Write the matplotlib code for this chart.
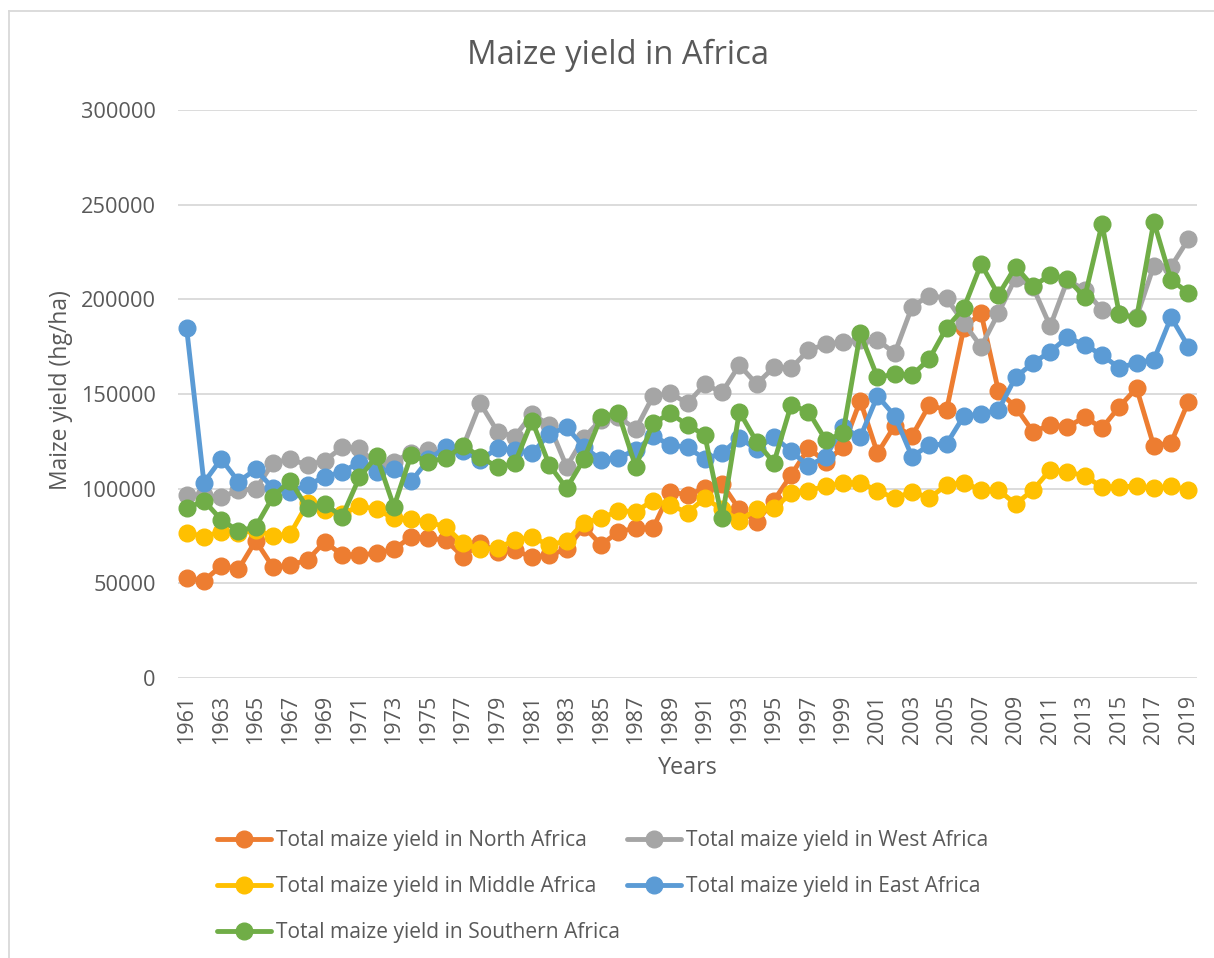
import matplotlib.pyplot as plt
from matplotlib.lines import Line2D

years = list(range(1961, 2020))

north = [52600, 51400, 59200, 57400, 72500, 58500, 59700, 62300, 72000, 65000,
         65000, 65900, 68000, 74600, 73800, 72900, 64100, 71100, 66700, 67600,
         63700, 65000, 68000, 79900, 70300, 77300, 79100, 79000, 98400, 96700,
         100200, 102500, 89100, 82600, 93700, 107200, 121300, 114300, 121900, 146500,
         118700, 133300, 127800, 144200, 141500, 184900, 192700, 151700, 143100, 130100,
         133600, 132700, 137800, 132000, 143300, 153100, 122500, 124300, 145900]

west = [96500, 96500, 95400, 99300, 99700, 113700, 115500, 112500, 114800, 121800,
        121300, 112800, 114300, 119000, 120500, 118700, 122000, 145100, 130100, 127500,
        139400, 133600, 111600, 127000, 136500, 138000, 131300, 148800, 150400, 145100,
        155100, 150900, 165300, 155300, 164100, 163600, 173200, 176200, 177600, 178300,
        178500, 171600, 196100, 202000, 200600, 187500, 175000, 192700, 211500, 206500,
        185800, 210200, 205000, 194400, 192300, 190500, 217800, 217300, 231800]

middle = [76800, 74700, 77300, 76400, 78200, 75000, 76100, 92300, 88700, 86600,
          90900, 89100, 84300, 84000, 82300, 79900, 71100, 68000, 68500, 72900,
          74300, 70300, 72400, 82100, 84300, 88400, 87900, 93700, 91400, 87300,
          95000, 89100, 83100, 89100, 89600, 97500, 98900, 101400, 102800, 103200,
          98900, 95000, 98400, 95100, 101900, 103200, 99300, 99300, 91900, 99300,
          109900, 109000, 106700, 100900, 100900, 101400, 100200, 101400, 99300]

east = [184700, 103200, 115700, 103700, 110200, 100200, 98400, 101900, 106300, 109000,
        113700, 109000, 110200, 103800, 115500, 121800, 120000, 115200, 121300, 120400,
        118700, 128900, 132400, 122000, 115200, 116400, 120400, 127800, 123100, 121800,
        115700, 118700, 126900, 120800, 127500, 119800, 112000, 116900, 132500, 127100,
        149000, 138400, 116900, 123100, 123600, 138400, 139400, 141500, 158900, 166300,
        172400, 180000, 175900, 170600, 163700, 166600, 168000, 190500, 175000]

southern = [89600, 93700, 83600, 77600, 79900, 95800, 104200, 89600, 91900, 85200,
            105900, 117200, 90500, 117800, 114300, 116000, 122700, 116900, 111300, 113400,
            135900, 112500, 100200, 115500, 138000, 139800, 111600, 134500, 139800, 133600,
            128300, 84300, 140700, 124800, 113700, 144200, 140700, 125700, 129200, 182000,
            158800, 160500, 160000, 168500, 185000, 195400, 218700, 202300, 217300, 206800,
            212900, 210700, 201200, 239800, 192300, 190100, 241000, 210200, 203500]

series = [
    ("Total maize yield in North Africa", north, "#ED7D31"),
    ("Total maize yield in West Africa", west, "#A5A5A5"),
    ("Total maize yield in Middle Africa", middle, "#FFC000"),
    ("Total maize yield in East Africa", east, "#5B9BD5"),
    ("Total maize yield in Southern Africa", southern, "#70AD47"),
]

TEXT = "#595959"
plt.rcParams["font.family"] = ["Open Sans", "DejaVu Sans"]

W, H = 1214, 958
fig = plt.figure(figsize=(W / 100, H / 100), dpi=100)
ax = fig.add_axes([178 / W, (H - 678) / H, 1019 / W, 568 / H])

handles = {}
for label, vals, color in series:
    ax.plot(years, vals, color=color, linewidth=3.5, marker="o", markersize=12,
            solid_capstyle="round", zorder=3)
    handles[label] = Line2D([], [], color=color, linewidth=3.5, marker="o",
                            markersize=12, solid_capstyle="round")

ax.set_xlim(1960.5, 2019.5)
ax.set_ylim(0, 300000)
ax.set_yticks(range(0, 300001, 50000))
ax.set_xticks(years[::2])
ax.tick_params(axis="x", labelrotation=90, length=0, pad=12, labelsize=15.5, colors=TEXT)
ax.tick_params(axis="y", length=0, pad=16, labelsize=15.7, colors=TEXT)
ax.grid(axis="y", color="#D9D9D9", linewidth=1.3, zorder=0)
for s in ax.spines.values():
    s.set_visible(False)

# titles placed in figure pixels, like the chart area of the original
fig.text(618 / W, 1 - 55 / H, "Maize yield in Africa", fontsize=23.6, color=TEXT,
         ha="center", va="center")
fig.text(688 / W, 1 - 768 / H, "Years", fontsize=16.8, color=TEXT, ha="center", va="center")
fig.text(61 / W, 1 - 390 / H, "Maize yield (hg/ha)", fontsize=16.5, color=TEXT,
         rotation=90, ha="center", va="center")

order = [series[0][0], series[2][0], series[4][0], series[1][0], series[3][0]]
fig.legend([handles[k] for k in order], order, ncol=2, frameon=False,
           loc="upper left", bbox_to_anchor=(198 / W, 1 - 811 / H),
           fontsize=15.1, labelcolor=TEXT, handlelength=2.6, handletextpad=0.2,
           columnspacing=0.35, labelspacing=1.2)

fig.add_artist(Line2D([9 / W, 9 / W], [0, 1 - 11 / H], color="#D9D9D9", linewidth=1.3))
fig.add_artist(Line2D([9 / W, 1], [1 - 11 / H, 1 - 11 / H], color="#D9D9D9", linewidth=1.3))

fig.savefig("out.png", dpi=100)
